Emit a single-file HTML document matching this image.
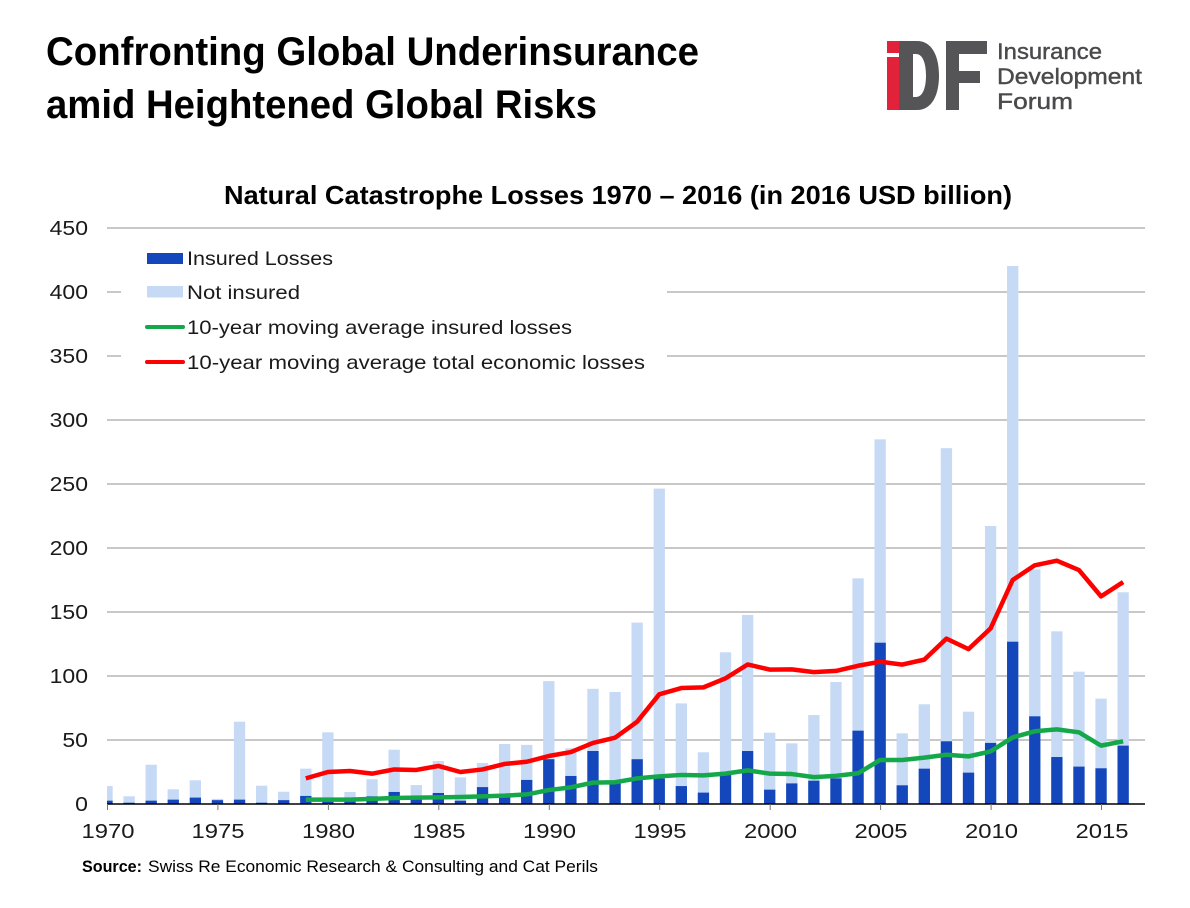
<!DOCTYPE html>
<html>
<head>
<meta charset="utf-8">
<style>
html,body{margin:0;padding:0;background:#fff;}
svg{display:block;}
text{font-family:"Liberation Sans",Arial,sans-serif;}
</style>
</head>
<body>
<svg width="1190" height="908" viewBox="0 0 1190 908" xmlns="http://www.w3.org/2000/svg">
<rect width="1190" height="908" fill="#fff"/>

<!-- Title -->
<text x="46" y="65" font-size="40" font-weight="bold" fill="#000" textLength="653" lengthAdjust="spacingAndGlyphs">Confronting Global Underinsurance</text>
<text x="46" y="118" font-size="40" font-weight="bold" fill="#000" textLength="551" lengthAdjust="spacingAndGlyphs">amid Heightened Global Risks</text>

<!-- Logo -->
<rect x="887" y="41" width="12" height="12" fill="#e2223b"/>
<rect x="887" y="57" width="12" height="53" fill="#e2223b"/>
<path fill="#555557" fill-rule="evenodd" d="M899,41 H917 C932,41 939,56 939,75.5 C939,95 932,110 917,110 H899 Z M913,54 H916 C923,54 926,64 926,75.5 C926,87 923,97 916,97 H913 Z"/>
<rect x="946" y="41" width="13" height="69" fill="#555557"/>
<rect x="946" y="41" width="41" height="13" fill="#555557"/>
<rect x="946" y="71" width="34" height="12" fill="#555557"/>
<g font-size="22" fill="#4a4a4c" stroke="#4a4a4c" stroke-width="0.4">
<text x="997" y="59" textLength="105" lengthAdjust="spacingAndGlyphs">Insurance</text>
<text x="997" y="84" textLength="145" lengthAdjust="spacingAndGlyphs">Development</text>
<text x="997" y="109" textLength="76" lengthAdjust="spacingAndGlyphs">Forum</text>
</g>

<!-- Chart title -->
<text x="224" y="204" font-size="26" font-weight="bold" fill="#000" textLength="788" lengthAdjust="spacingAndGlyphs">Natural Catastrophe Losses 1970 – 2016 (in 2016 USD billion)</text>

<!-- Gridlines -->
<g stroke="#a6a6a6" stroke-width="1.3">
<line x1="107" y1="228" x2="1145" y2="228"/>
<line x1="107" y1="292" x2="1145" y2="292"/>
<line x1="107" y1="356" x2="1145" y2="356"/>
<line x1="107" y1="420" x2="1145" y2="420"/>
<line x1="107" y1="484" x2="1145" y2="484"/>
<line x1="107" y1="548" x2="1145" y2="548"/>
<line x1="107" y1="612" x2="1145" y2="612"/>
<line x1="107" y1="676" x2="1145" y2="676"/>
<line x1="107" y1="740" x2="1145" y2="740"/>
</g>

<!-- Y labels -->
<g font-size="20" fill="#1a1a1a" text-anchor="end">
<text x="88" y="235" textLength="38.4" lengthAdjust="spacingAndGlyphs">450</text>
<text x="88" y="299" textLength="38.4" lengthAdjust="spacingAndGlyphs">400</text>
<text x="88" y="363" textLength="38.4" lengthAdjust="spacingAndGlyphs">350</text>
<text x="88" y="427" textLength="38.4" lengthAdjust="spacingAndGlyphs">300</text>
<text x="88" y="491" textLength="38.4" lengthAdjust="spacingAndGlyphs">250</text>
<text x="88" y="555" textLength="38.4" lengthAdjust="spacingAndGlyphs">200</text>
<text x="88" y="619" textLength="38.4" lengthAdjust="spacingAndGlyphs">150</text>
<text x="88" y="683" textLength="38.4" lengthAdjust="spacingAndGlyphs">100</text>
<text x="88" y="747" textLength="25.6" lengthAdjust="spacingAndGlyphs">50</text>
<text x="88" y="811" textLength="12.8" lengthAdjust="spacingAndGlyphs">0</text>
</g>

<!-- Not insured (total) bars -->
<g fill="#c6d9f5">
<rect x="107" y="786.08" width="5.65" height="17.92"/>
<rect x="123.44" y="796.32" width="11.3" height="7.68"/>
<rect x="145.53" y="764.70" width="11.3" height="39.30"/>
<rect x="167.62" y="789.28" width="11.3" height="14.72"/>
<rect x="189.71" y="780.32" width="11.3" height="23.68"/>
<rect x="211.80" y="798.88" width="11.3" height="5.12"/>
<rect x="233.89" y="721.70" width="11.3" height="82.30"/>
<rect x="255.98" y="785.70" width="11.3" height="18.30"/>
<rect x="278.07" y="791.71" width="11.3" height="12.29"/>
<rect x="300.16" y="768.67" width="11.3" height="35.33"/>
<rect x="322.25" y="732.32" width="11.3" height="71.68"/>
<rect x="344.34" y="791.97" width="11.3" height="12.03"/>
<rect x="366.43" y="779.30" width="11.3" height="24.70"/>
<rect x="388.52" y="749.73" width="11.3" height="54.27"/>
<rect x="410.61" y="785.06" width="11.3" height="18.94"/>
<rect x="432.70" y="760.99" width="11.3" height="43.01"/>
<rect x="454.79" y="777.38" width="11.3" height="26.62"/>
<rect x="476.88" y="763.04" width="11.3" height="40.96"/>
<rect x="498.97" y="743.97" width="11.3" height="60.03"/>
<rect x="521.06" y="744.86" width="11.3" height="59.14"/>
<rect x="543.15" y="681.12" width="11.3" height="122.88"/>
<rect x="565.24" y="748.32" width="11.3" height="55.68"/>
<rect x="587.33" y="688.80" width="11.3" height="115.20"/>
<rect x="609.42" y="692.00" width="11.3" height="112.00"/>
<rect x="631.51" y="622.62" width="11.3" height="181.38"/>
<rect x="653.60" y="488.61" width="11.3" height="315.39"/>
<rect x="675.69" y="703.39" width="11.3" height="100.61"/>
<rect x="697.78" y="752.29" width="11.3" height="51.71"/>
<rect x="719.87" y="652.32" width="11.3" height="151.68"/>
<rect x="741.96" y="614.94" width="11.3" height="189.06"/>
<rect x="764.05" y="732.70" width="11.3" height="71.30"/>
<rect x="786.14" y="743.33" width="11.3" height="60.67"/>
<rect x="808.23" y="715.04" width="11.3" height="88.96"/>
<rect x="830.32" y="682.02" width="11.3" height="121.98"/>
<rect x="852.41" y="578.34" width="11.3" height="225.66"/>
<rect x="874.50" y="439.33" width="11.3" height="364.67"/>
<rect x="896.59" y="733.34" width="11.3" height="70.66"/>
<rect x="918.68" y="704.29" width="11.3" height="99.71"/>
<rect x="940.77" y="448.16" width="11.3" height="355.84"/>
<rect x="962.86" y="711.71" width="11.3" height="92.29"/>
<rect x="984.95" y="525.98" width="11.3" height="278.02"/>
<rect x="1007.04" y="266.02" width="11.3" height="537.98"/>
<rect x="1029.13" y="569.38" width="11.3" height="234.62"/>
<rect x="1051.22" y="631.33" width="11.3" height="172.67"/>
<rect x="1073.31" y="671.65" width="11.3" height="132.35"/>
<rect x="1095.40" y="698.66" width="11.3" height="105.34"/>
<rect x="1117.49" y="592.29" width="11.3" height="211.71"/>
</g>

<!-- Insured bars -->
<g fill="#1447bb">
<rect x="107" y="800.67" width="5.65" height="3.33"/>
<rect x="123.44" y="802.72" width="11.3" height="1.28"/>
<rect x="145.53" y="800.67" width="11.3" height="3.33"/>
<rect x="167.62" y="799.65" width="11.3" height="4.35"/>
<rect x="189.71" y="797.60" width="11.3" height="6.40"/>
<rect x="211.80" y="800.16" width="11.3" height="3.84"/>
<rect x="233.89" y="799.65" width="11.3" height="4.35"/>
<rect x="255.98" y="802.72" width="11.3" height="1.28"/>
<rect x="278.07" y="800.16" width="11.3" height="3.84"/>
<rect x="300.16" y="795.94" width="11.3" height="8.06"/>
<rect x="322.25" y="800.16" width="11.3" height="3.84"/>
<rect x="344.34" y="798.88" width="11.3" height="5.12"/>
<rect x="366.43" y="796.32" width="11.3" height="7.68"/>
<rect x="388.52" y="791.97" width="11.3" height="12.03"/>
<rect x="410.61" y="796.96" width="11.3" height="7.04"/>
<rect x="432.70" y="792.99" width="11.3" height="11.01"/>
<rect x="454.79" y="800.67" width="11.3" height="3.33"/>
<rect x="476.88" y="787.10" width="11.3" height="16.90"/>
<rect x="498.97" y="796.32" width="11.3" height="7.68"/>
<rect x="521.06" y="779.94" width="11.3" height="24.06"/>
<rect x="543.15" y="759.20" width="11.3" height="44.80"/>
<rect x="565.24" y="775.97" width="11.3" height="28.03"/>
<rect x="587.33" y="751.01" width="11.3" height="52.99"/>
<rect x="609.42" y="783.52" width="11.3" height="20.48"/>
<rect x="631.51" y="759.20" width="11.3" height="44.80"/>
<rect x="653.60" y="778.40" width="11.3" height="25.60"/>
<rect x="675.69" y="786.08" width="11.3" height="17.92"/>
<rect x="697.78" y="792.61" width="11.3" height="11.39"/>
<rect x="719.87" y="774.94" width="11.3" height="29.06"/>
<rect x="741.96" y="751.01" width="11.3" height="52.99"/>
<rect x="764.05" y="789.66" width="11.3" height="14.34"/>
<rect x="786.14" y="783.39" width="11.3" height="20.61"/>
<rect x="808.23" y="780.70" width="11.3" height="23.30"/>
<rect x="830.32" y="778.40" width="11.3" height="25.60"/>
<rect x="852.41" y="730.66" width="11.3" height="73.34"/>
<rect x="874.50" y="642.72" width="11.3" height="161.28"/>
<rect x="896.59" y="785.31" width="11.3" height="18.69"/>
<rect x="918.68" y="768.67" width="11.3" height="35.33"/>
<rect x="940.77" y="741.28" width="11.3" height="62.72"/>
<rect x="962.86" y="772.64" width="11.3" height="31.36"/>
<rect x="984.95" y="742.94" width="11.3" height="61.06"/>
<rect x="1007.04" y="641.70" width="11.3" height="162.30"/>
<rect x="1029.13" y="716.32" width="11.3" height="87.68"/>
<rect x="1051.22" y="757.02" width="11.3" height="46.98"/>
<rect x="1073.31" y="766.62" width="11.3" height="37.38"/>
<rect x="1095.40" y="768.29" width="11.3" height="35.71"/>
<rect x="1117.49" y="745.63" width="11.3" height="58.37"/>
</g>

<!-- Green line: 10-year MA insured -->
<polyline fill="none" stroke="#15a84a" stroke-width="4.5" stroke-linejoin="round" stroke-linecap="butt"
points="305.81,799.65 327.90,799.65 349.99,799.65 372.08,798.88 394.17,797.98 416.26,797.60 438.35,797.34 460.44,796.96 482.53,796.32 504.62,795.68 526.71,794.40 548.80,790.05 570.89,787.36 592.98,782.62 615.07,782.24 637.16,778.40 659.25,776.35 681.34,774.94 703.43,775.33 725.52,773.66 747.61,770.34 769.70,773.66 791.79,774.05 813.88,777.12 835.97,775.84 858.06,773.28 880.15,759.97 902.24,759.97 924.33,757.66 946.42,754.72 968.51,756.38 990.60,751.39 1012.69,737.44 1034.78,731.30 1056.87,729.38 1078.96,732.32 1101.05,745.63 1123.14,741.28"/>

<!-- Red line: 10-year MA total -->
<polyline fill="none" stroke="#ff0000" stroke-width="4.5" stroke-linejoin="round" stroke-linecap="butt"
points="305.81,778.40 327.90,772.00 349.99,770.98 372.08,773.66 394.17,769.44 416.26,769.95 438.35,765.98 460.44,772.00 482.53,769.44 504.62,763.94 526.71,761.76 548.80,756.00 570.89,752.03 592.98,742.94 615.07,737.70 637.16,721.70 659.25,694.30 681.34,688.03 703.43,687.39 725.52,678.30 747.61,664.48 769.70,669.60 791.79,669.34 813.88,672.16 835.97,670.88 858.06,665.76 880.15,661.66 902.24,664.61 924.33,659.62 946.42,638.62 968.51,649.12 990.60,628.38 1012.69,580.00 1034.78,565.28 1056.87,560.67 1078.96,570.02 1101.05,596.38 1123.14,582.05"/>

<!-- Axis -->
<line x1="107" y1="804" x2="1145" y2="804" stroke="#000" stroke-width="1.6"/>
<g stroke="#777" stroke-width="1">
<line x1="107.5" y1="804" x2="107.5" y2="810"/>
<line x1="217.9" y1="804" x2="217.9" y2="810"/>
<line x1="328.4" y1="804" x2="328.4" y2="810"/>
<line x1="438.8" y1="804" x2="438.8" y2="810"/>
<line x1="549.3" y1="804" x2="549.3" y2="810"/>
<line x1="659.7" y1="804" x2="659.7" y2="810"/>
<line x1="770.2" y1="804" x2="770.2" y2="810"/>
<line x1="880.6" y1="804" x2="880.6" y2="810"/>
<line x1="991.1" y1="804" x2="991.1" y2="810"/>
<line x1="1101.5" y1="804" x2="1101.5" y2="810"/>
</g>

<!-- X labels -->
<g font-size="20" fill="#1a1a1a" text-anchor="middle">
<text x="108" y="838" textLength="53" lengthAdjust="spacingAndGlyphs">1970</text>
<text x="218" y="838" textLength="53" lengthAdjust="spacingAndGlyphs">1975</text>
<text x="328.5" y="838" textLength="53" lengthAdjust="spacingAndGlyphs">1980</text>
<text x="439" y="838" textLength="53" lengthAdjust="spacingAndGlyphs">1985</text>
<text x="549.5" y="838" textLength="53" lengthAdjust="spacingAndGlyphs">1990</text>
<text x="660" y="838" textLength="53" lengthAdjust="spacingAndGlyphs">1995</text>
<text x="770.5" y="838" textLength="53" lengthAdjust="spacingAndGlyphs">2000</text>
<text x="881" y="838" textLength="53" lengthAdjust="spacingAndGlyphs">2005</text>
<text x="991.5" y="838" textLength="53" lengthAdjust="spacingAndGlyphs">2010</text>
<text x="1102" y="838" textLength="53" lengthAdjust="spacingAndGlyphs">2015</text>
</g>

<!-- Legend -->
<rect x="121" y="238" width="546" height="138" fill="#fff"/>
<rect x="147" y="253" width="36" height="11" fill="#1447bb"/>
<rect x="147" y="286" width="36" height="11.5" fill="#c6d9f5"/>
<line x1="147" y1="327" x2="183" y2="327" stroke="#15a84a" stroke-width="4" stroke-linecap="round"/>
<line x1="147" y1="362" x2="183" y2="362" stroke="#ff0000" stroke-width="4" stroke-linecap="round"/>
<g font-size="19.5" fill="#1a1a1a">
<text x="187" y="265" textLength="146" lengthAdjust="spacingAndGlyphs">Insured Losses</text>
<text x="187" y="299" textLength="113" lengthAdjust="spacingAndGlyphs">Not insured</text>
<text x="187" y="334" textLength="385" lengthAdjust="spacingAndGlyphs">10-year moving average insured losses</text>
<text x="187" y="369" textLength="458" lengthAdjust="spacingAndGlyphs">10-year moving average total economic losses</text>
</g>

<!-- Source -->
<text x="82" y="872" font-size="17" font-weight="bold" fill="#000" textLength="60" lengthAdjust="spacingAndGlyphs">Source:</text>
<text x="148" y="872" font-size="17" fill="#000" textLength="450" lengthAdjust="spacingAndGlyphs">Swiss Re Economic Research &amp; Consulting and Cat Perils</text>
</svg>
</body>
</html>
